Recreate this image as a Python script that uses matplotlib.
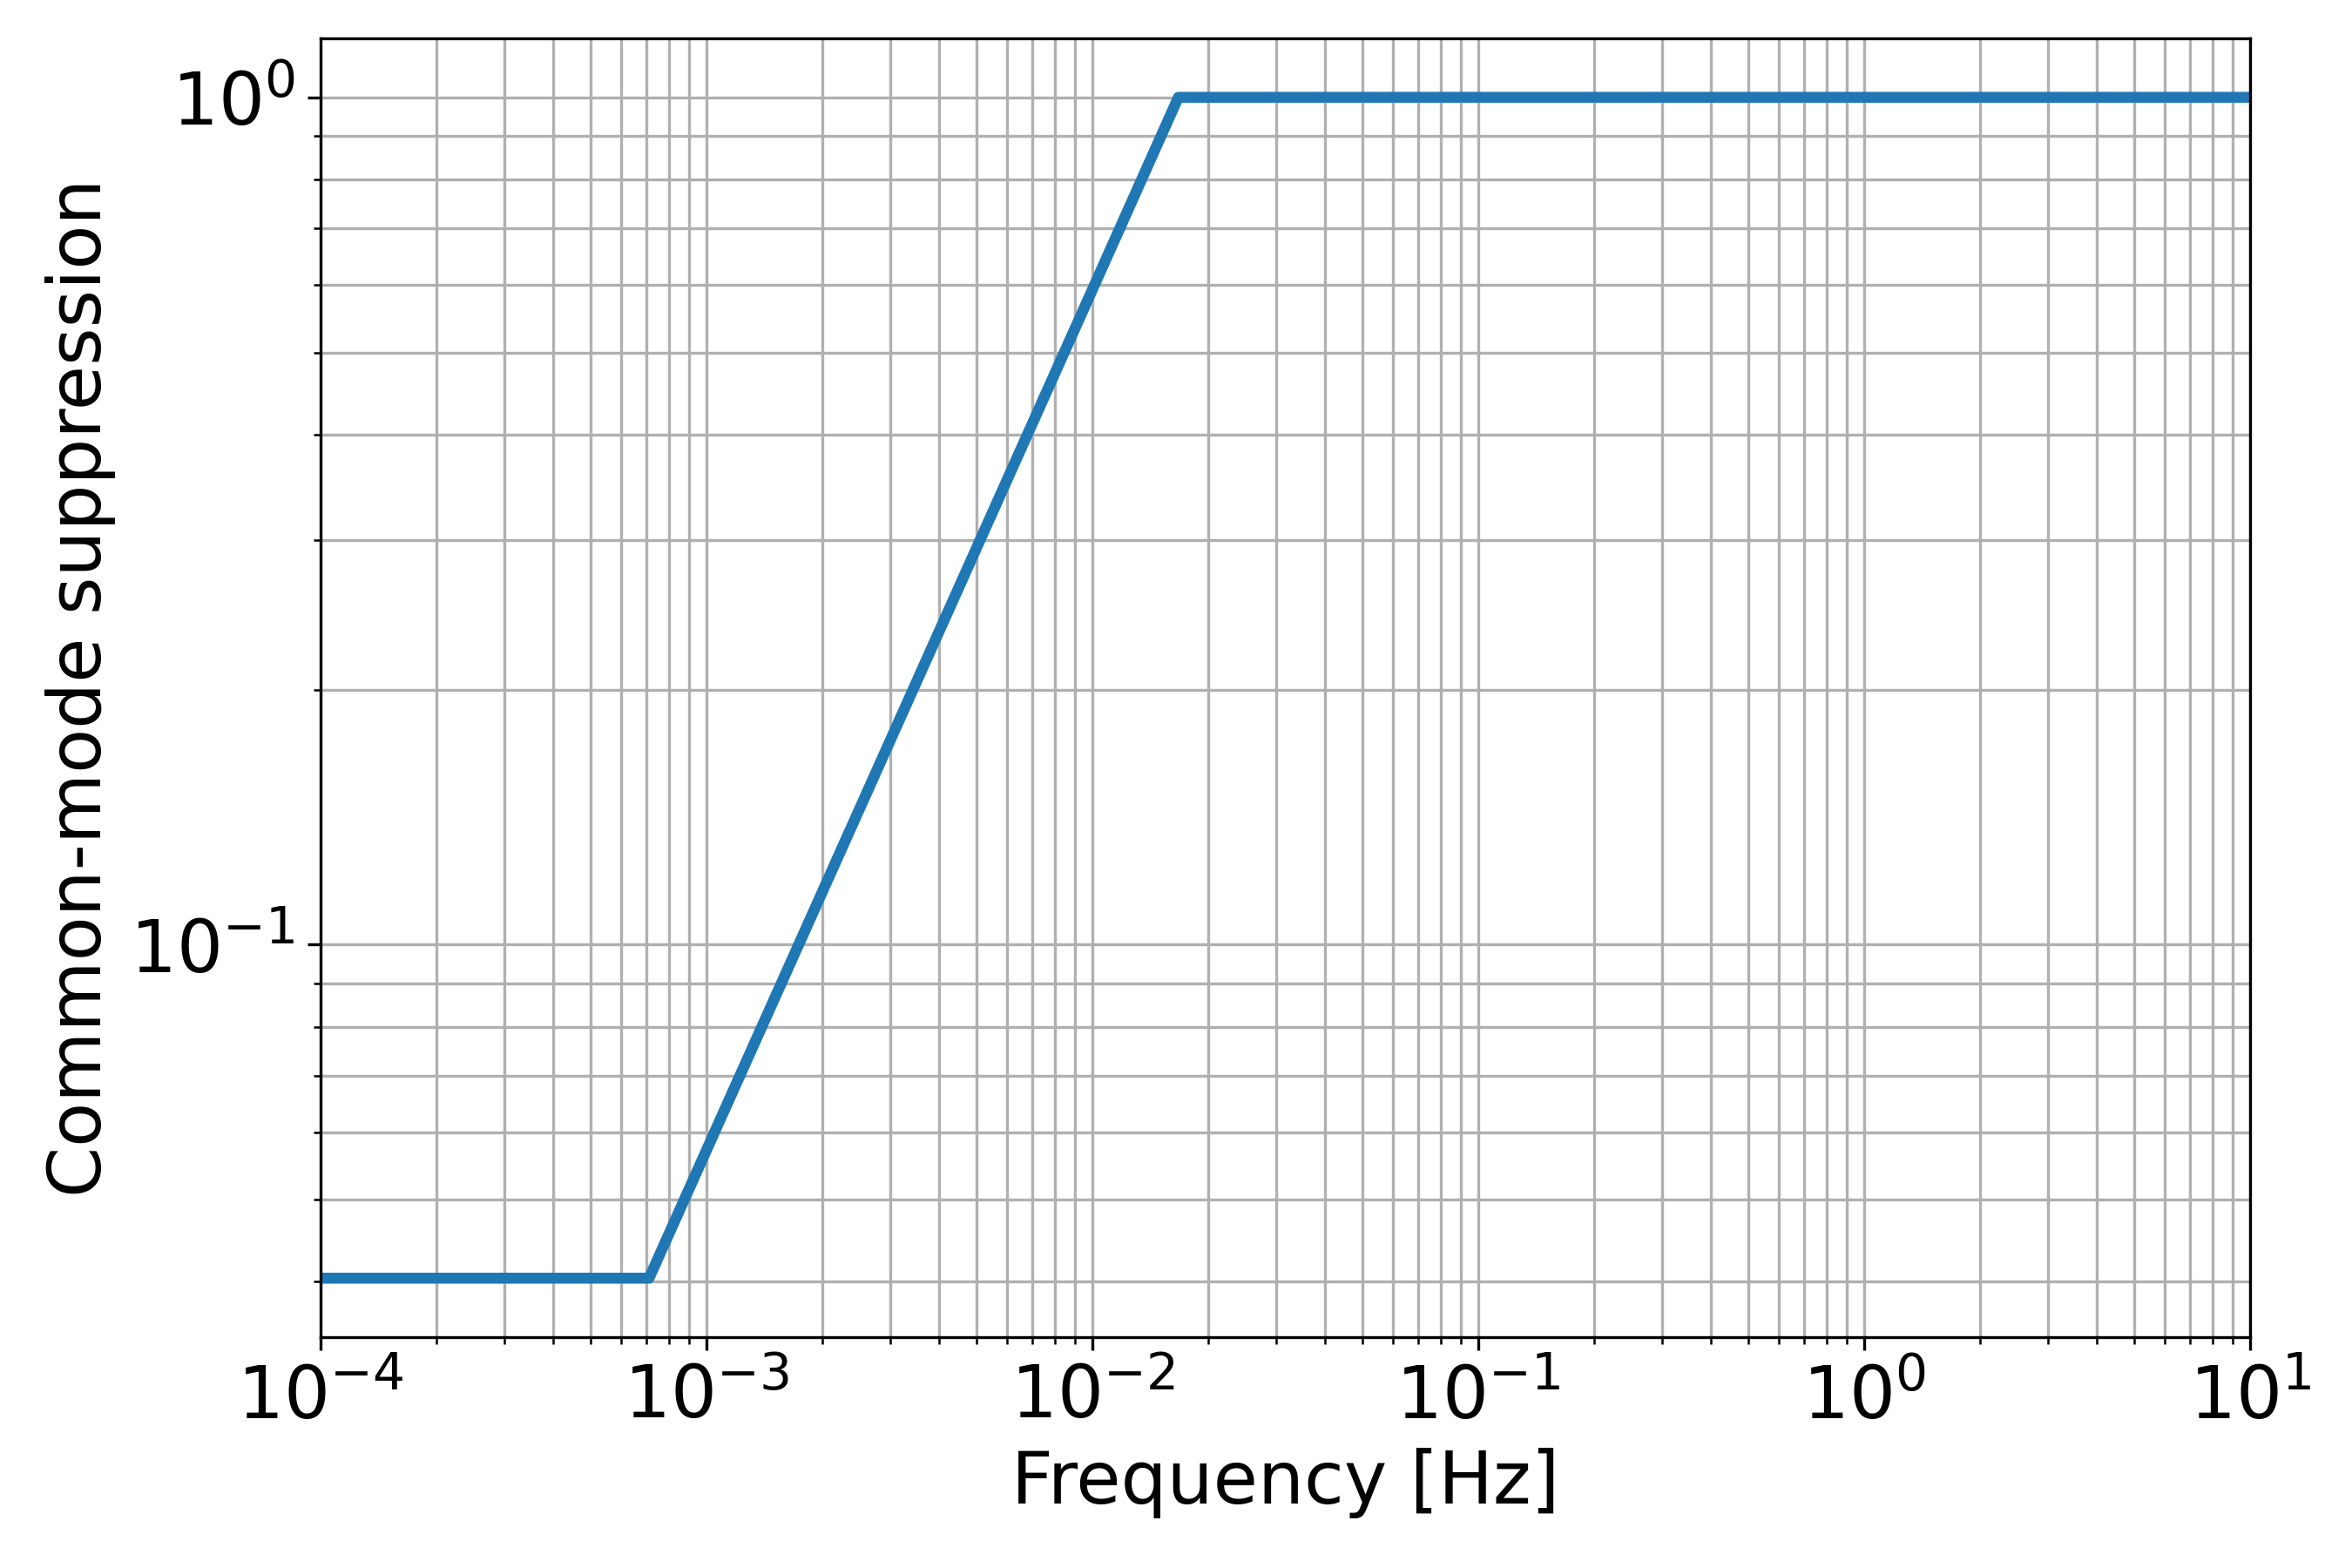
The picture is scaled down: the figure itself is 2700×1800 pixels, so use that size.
import matplotlib
matplotlib.use("Agg")
import matplotlib.pyplot as plt

freq = [1e-4, 7.1e-4, 1e-2, 1.67e-2, 10.0]
suppression = [0.0404, 0.0404, 0.593, 1.0, 1.0]

fig = plt.figure(figsize=(9, 6), dpi=300)
ax = fig.add_axes([0.1363, 0.1472, 0.9567 - 0.1363, 0.9756 - 0.1472])
ax.loglog(freq, suppression, color="#1f77b4", lw=3)
ax.set_xlim(1e-4, 1e1)
ax.grid(True, which="both")
ax.set_xlabel("Frequency [Hz]", fontsize=20)
ax.set_ylabel("Common-mode suppression", fontsize=20)
ax.tick_params(axis="both", which="major", labelsize=20)
fig.savefig("out.png", dpi=300)
